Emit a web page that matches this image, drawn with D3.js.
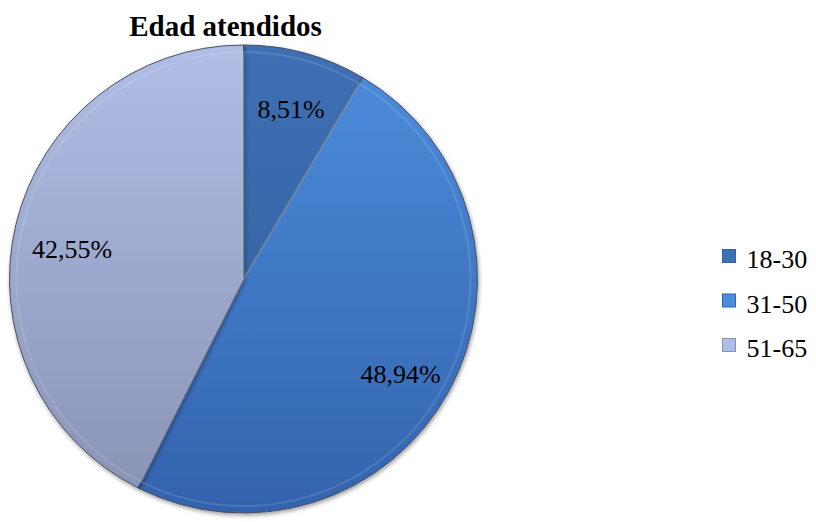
<!DOCTYPE html>
<html>
<head>
<meta charset="utf-8">
<script src="https://cdn.jsdelivr.net/npm/d3@7"></script>
<style>
  body { margin: 0; background: #fff; }
</style>
</head>
<body>
<svg id="chart" width="816" height="522"></svg>
<script>
var categories = ["18-30", "31-50", "51-65"];
var values = [8.51, 48.94, 42.55];
var labels = ["8,51%", "48,94%", "42,55%"];

var topColors = ["#3d6fb3", "#4c8ddc", "#b0bee6"];
var bottomColors = ["#30609f", "#3363ad", "#8792b4"];

var FONT = "'Liberation Serif', 'Times New Roman', serif";

var svg = d3.select("#chart"),
    cx = 243.5,
    cy = 279,
    radius = 234;

var defs = svg.append("defs");
categories.forEach(function(c, i) {
    var grad = defs.append("linearGradient")
        .attr("id", "grad" + i)
        .attr("gradientUnits", "userSpaceOnUse")
        .attr("x1", 0).attr("y1", -radius)
        .attr("x2", 0).attr("y2", radius);
    grad.append("stop").attr("offset", "0%").attr("stop-color", topColors[i]);
    grad.append("stop").attr("offset", "100%").attr("stop-color", bottomColors[i]);
});

var shadow = defs.append("filter").attr("id", "shadow")
    .attr("x", "-10%").attr("y", "-10%").attr("width", "120%").attr("height", "120%");
shadow.append("feGaussianBlur").attr("in", "SourceAlpha").attr("stdDeviation", 2);
shadow.append("feOffset").attr("dx", 1).attr("dy", 2).attr("result", "blur");
shadow.append("feComponentTransfer").append("feFuncA").attr("type", "linear").attr("slope", 0.4);
var merge = shadow.append("feMerge");
merge.append("feMergeNode");
merge.append("feMergeNode").attr("in", "SourceGraphic");

svg.append("text")
    .attr("x", 225.5)
    .attr("y", 36)
    .attr("text-anchor", "middle")
    .style("font-family", FONT)
    .style("font-size", "29px")
    .style("font-weight", "bold")
    .text("Edad atendidos");

var pie = d3.pie().sort(null).value(function(d) { return d; });
var arcs = pie(values);

var arc = d3.arc().innerRadius(0).outerRadius(radius);
var innerArc = d3.arc().innerRadius(0).outerRadius(radius - 7);

var g = svg.append("g")
    .attr("transform", "translate(" + cx + "," + cy + ")");

g.selectAll("path.slice")
    .data(arcs)
    .enter()
    .append("path")
    .attr("class", "slice")
    .attr("d", arc)
    .attr("filter", "url(#shadow)")
    .style("fill", function(d, i) { return "url(#grad" + i + ")"; })
    .style("stroke", "#4a5060")
    .style("stroke-width", 1);

// Bevel highlight on the rim.
g.selectAll("path.bevel")
    .data(arcs)
    .enter()
    .append("path")
    .attr("class", "bevel")
    .attr("d", innerArc)
    .style("fill", "none")
    .style("stroke", "#ffffff")
    .style("stroke-opacity", 0.12)
    .style("stroke-width", 2);

// Label baselines, relative to the pie centre.
var labelPos = [[47.5, -161], [157, 104], [-171.5, -21]];
g.selectAll("text.label")
    .data(arcs)
    .enter()
    .append("text")
    .attr("class", "label")
    .attr("x", function(d, i) { return labelPos[i][0]; })
    .attr("y", function(d, i) { return labelPos[i][1]; })
    .attr("text-anchor", "middle")
    .style("font-family", FONT)
    .style("font-size", "26px")
    .text(function(d, i) { return labels[i]; });

var legend = svg.append("g").attr("transform", "translate(722,268)");
var item = legend.selectAll("g")
    .data(categories)
    .enter()
    .append("g")
    .attr("transform", function(d, i) { return "translate(0," + i * 44.5 + ")"; });

item.append("rect")
    .attr("x", 0.5)
    .attr("y", -18.5)
    .attr("width", 13)
    .attr("height", 13)
    .style("fill", function(d, i) { return topColors[i]; })
    .style("stroke", function(d, i) { return bottomColors[i]; })
    .style("stroke-width", 1);

item.append("text")
    .attr("x", 24.5)
    .attr("y", 0)
    .style("font-family", FONT)
    .style("font-size", "26px")
    .text(function(d) { return d; });
</script>
</body>
</html>
